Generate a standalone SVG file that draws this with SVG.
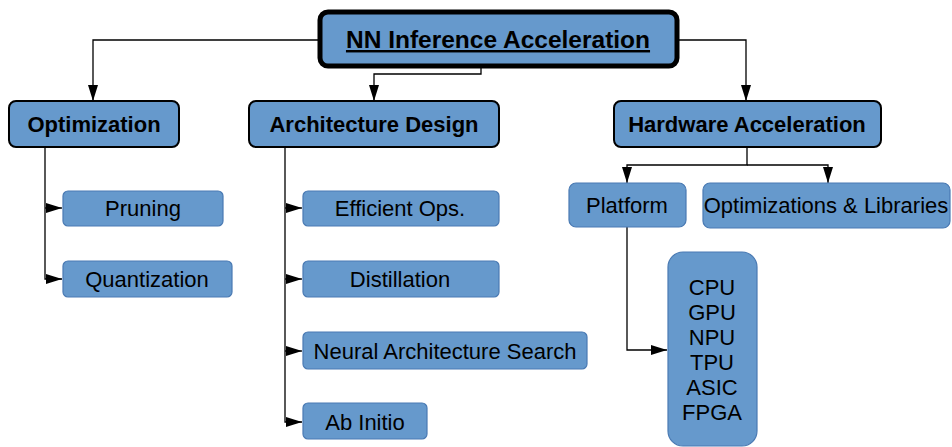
<svg xmlns="http://www.w3.org/2000/svg" width="952" height="447" viewBox="0 0 952 447">
  <style>
    .root { fill: #6699cc; stroke: #000; stroke-width: 5; }
    .head { fill: #6699cc; stroke: #000; stroke-width: 2; }
    .leaf { fill: #6699cc; stroke: #4a7ab3; stroke-width: 1.2; }
    text { font-family: "Liberation Sans", Arial, sans-serif; fill: #000; text-anchor: middle; }
    .t-root { font-size: 24.5px; font-weight: bold; text-decoration: underline; }
    .t-head { font-size: 22px; font-weight: bold; }
    .t-leaf { font-size: 22px; }
    .wire { fill: none; stroke: #000; stroke-width: 1.3; }
  </style>
  <defs>
    <marker id="arrow" markerUnits="userSpaceOnUse" markerWidth="16" markerHeight="10" refX="16" refY="5" orient="auto">
      <path d="M0,0 L16,5 L0,10 z" fill="#000"/>
    </marker>
  </defs>

  <g id="connectors">
    <path class="wire" d="M320,40 H93 V101" marker-end="url(#arrow)"/>
    <path class="wire" d="M677,40 H746 V101" marker-end="url(#arrow)"/>
    <path class="wire" d="M481,66 V74 H374 V101" marker-end="url(#arrow)"/>

    <path class="wire" d="M45,147 V279 H62" marker-end="url(#arrow)"/>
    <path class="wire" d="M45,208 H62" marker-end="url(#arrow)"/>

    <path class="wire" d="M285,147 V422 H302" marker-end="url(#arrow)"/>
    <path class="wire" d="M285,208 H302" marker-end="url(#arrow)"/>
    <path class="wire" d="M285,279 H302" marker-end="url(#arrow)"/>
    <path class="wire" d="M285,351 H302" marker-end="url(#arrow)"/>

    <path class="wire" d="M747,147 V165 H627 V183" marker-end="url(#arrow)"/>
    <path class="wire" d="M747,165 H828 V183" marker-end="url(#arrow)"/>

    <path class="wire" d="M627,227 V350 H667" marker-end="url(#arrow)"/>
  </g>

  <g id="root">
    <rect class="root" x="320" y="12" width="357" height="54" rx="8"/>
    <text class="t-root" x="498" y="48">NN Inference Acceleration</text>
  </g>

  <g id="optimization">
    <rect class="head" x="9" y="101" width="170" height="46" rx="7"/>
    <text class="t-head" x="94" y="132">Optimization</text>
  </g>
  <g id="pruning">
    <rect class="leaf" x="63" y="191" width="160" height="35" rx="5"/>
    <text class="t-leaf" x="143" y="216">Pruning</text>
  </g>
  <g id="quantization">
    <rect class="leaf" x="63" y="261" width="169" height="36" rx="5"/>
    <text class="t-leaf" x="147" y="287">Quantization</text>
  </g>

  <g id="architecture-design">
    <rect class="head" x="249" y="101" width="250" height="46" rx="7"/>
    <text class="t-head" x="374" y="132">Architecture Design</text>
  </g>
  <g id="efficient-ops">
    <rect class="leaf" x="303" y="191" width="196" height="35" rx="5"/>
    <text class="t-leaf" x="400" y="216">Efficient Ops.</text>
  </g>
  <g id="distillation">
    <rect class="leaf" x="303" y="261" width="196" height="36" rx="5"/>
    <text class="t-leaf" x="400" y="287">Distillation</text>
  </g>
  <g id="nas">
    <rect class="leaf" x="303" y="332" width="284" height="37" rx="5"/>
    <text class="t-leaf" x="445" y="359">Neural Architecture Search</text>
  </g>
  <g id="ab-initio">
    <rect class="leaf" x="303" y="403" width="124" height="36" rx="5"/>
    <text class="t-leaf" x="365" y="430">Ab Initio</text>
  </g>

  <g id="hardware-acceleration">
    <rect class="head" x="614" y="101" width="267" height="46" rx="7"/>
    <text class="t-head" x="747" y="132">Hardware Acceleration</text>
  </g>
  <g id="platform">
    <rect class="leaf" x="569" y="183" width="117" height="44" rx="7"/>
    <text class="t-leaf" x="627" y="213">Platform</text>
  </g>
  <g id="optimizations-libraries">
    <rect class="leaf" x="703" y="183" width="247" height="45" rx="7"/>
    <text class="t-leaf" x="826" y="213">Optimizations &amp; Libraries</text>
  </g>
  <g id="platform-list">
    <rect class="leaf" x="668" y="252" width="89" height="194" rx="15"/>
    <text class="t-leaf" x="712" y="295">CPU</text>
    <text class="t-leaf" x="712" y="320">GPU</text>
    <text class="t-leaf" x="712" y="345">NPU</text>
    <text class="t-leaf" x="712" y="370">TPU</text>
    <text class="t-leaf" x="712" y="395">ASIC</text>
    <text class="t-leaf" x="712" y="420">FPGA</text>
  </g>
</svg>
